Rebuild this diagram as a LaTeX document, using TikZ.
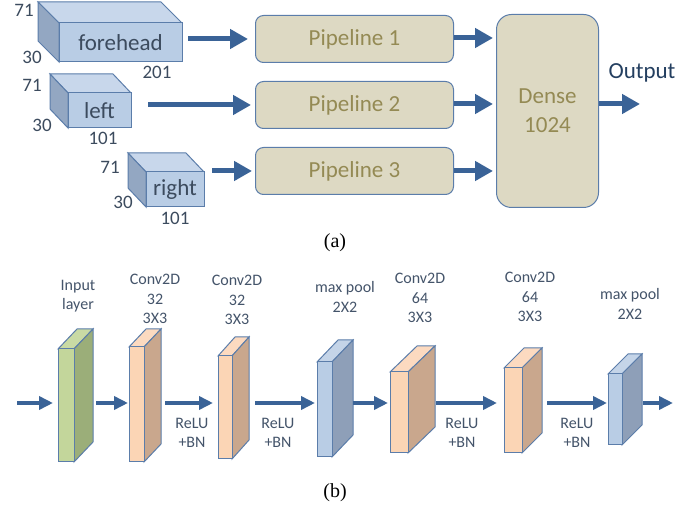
\documentclass[tikz,border=0pt]{standalone}
\usepackage{fontspec}
\setmainfont{Carlito}
\newfontfamily\capfont{Liberation Serif}
\usetikzlibrary{arrows.meta,calc}
\definecolor{edgeblue}{HTML}{5B7DAA}
\definecolor{arrblue}{HTML}{3A6397}
\definecolor{cubfront}{HTML}{B9CDE5}
\definecolor{cubtop}{HTML}{C8D7EB}
\definecolor{cubside}{HTML}{93A7C2}
\definecolor{grnfront}{HTML}{C3D69B}
\definecolor{grntop}{HTML}{C9DAA4}
\definecolor{grnside}{HTML}{9BAE79}
\definecolor{cnvfront}{HTML}{FBD5B5}
\definecolor{cnvtop}{HTML}{FCDAC0}
\definecolor{cnvside}{HTML}{C9A78D}
\definecolor{mpfront}{HTML}{B9CDE5}
\definecolor{mptop}{HTML}{C4D4E8}
\definecolor{mpside}{HTML}{8E9FB8}
\definecolor{tanfill}{HTML}{DDD9C3}
\definecolor{olivetext}{HTML}{948A54}
\definecolor{darktext}{HTML}{3C4B5E}
\definecolor{labtext}{HTML}{44546A}
\definecolor{navytext}{HTML}{243F60}
\tikzset{
  face/.style={draw=edgeblue, line width=1pt},
  bigfont/.style={font=\fontsize{23}{29}\selectfont},
  numlbl/.style={font=\fontsize{19}{22}\selectfont, text=darktext, inner sep=0pt},
  lbl/.style={font=\fontsize{16}{19.5}\selectfont, text=labtext, align=center, inner sep=0pt},
  pipebox/.style={draw=edgeblue, fill=tanfill, rounded corners=8pt, line width=1pt,
     minimum width=198pt, minimum height=47pt, anchor=north west, bigfont, text=olivetext},
  bigarrow/.style={draw=arrblue, line width=5pt, -{Triangle[length=18pt,width=19pt]}},
  smallarrow/.style={draw=arrblue, line width=3.5pt, -{Triangle[length=14pt,width=13pt]}},
}
% box with depth to the upper left: name,x1,y1,x2,y2,dx,dy,colour prefix,text
\newcommand\boxL[9]{%
  \filldraw[face, fill=#8top] (#2,#3) -- ({#2+(#6)},{#3+(#7)}) -- ({#4+(#6)},{#3+(#7)}) -- (#4,#3) -- cycle;
  \filldraw[face, fill=#8side] (#2,#3) -- ({#2+(#6)},{#3+(#7)}) -- ({#2+(#6)},{#5+(#7)}) -- (#2,#5) -- cycle;
  \node[face, fill=#8front, anchor=north west, inner sep=0pt, outer sep=0pt,
        minimum width={(#4-#2)*1pt}, minimum height={(#5-#3)*1pt}, bigfont, text=darktext] (#1) at (#2,#3) {#9};
}
% slab with depth to the upper right: name,x1,y1,x2,y2,dx,dy,colour prefix
\newcommand\slabR[8]{%
  \filldraw[face, fill=#8top] (#2,#3) -- ({#2+(#6)},{#3+(#7)}) -- ({#4+(#6)},{#3+(#7)}) -- (#4,#3) -- cycle;
  \filldraw[face, fill=#8side] (#4,#3) -- ({#4+(#6)},{#3+(#7)}) -- ({#4+(#6)},{#5+(#7)}) -- (#4,#5) -- cycle;
  \node[face, fill=#8front, anchor=north west, inner sep=0pt, outer sep=0pt,
        minimum width={(#4-#2)*1pt}, minimum height={(#5-#3)*1pt}] (#1) at (#2,#3) {};
  \coordinate (#1-back) at ({#4+(#6)},#3);
}
\begin{document}
\begin{tikzpicture}[x=1pt,y=-1pt]
\useasboundingbox[fill=white] (0,0) rectangle (699,510);
% ---------- (a) ----------
\boxL{fh}{59}{23}{182}{62}{-21}{-21}{cub}{forehead}
\boxL{lf}{68}{93}{131}{128}{-18}{-19}{cub}{left}
\boxL{rt}{146}{172}{204}{207}{-18}{-19}{cub}{right}
\node[numlbl] (fh71) at (24,10) {71};
\node[numlbl] (fh30) at (32,57) {30};
\node[numlbl] (fh201) at (157,72) {201};
\node[numlbl] (lf71) at (32,85) {71};
\node[numlbl] (lf30) at (42,125) {30};
\node[numlbl] (lf101) at (103,138) {101};
\node[numlbl] (rt71) at (110,167) {71};
\node[numlbl] (rt30) at (123,202) {30};
\node[numlbl] (rt101) at (175,218) {101};

\node[pipebox] (p1) at (255,15) {Pipeline 1};
\node[pipebox] (p2) at (255,81) {Pipeline 2};
\node[pipebox] (p3) at (255,147) {Pipeline 3};
\node[draw=edgeblue, fill=tanfill, rounded corners=15pt, line width=1pt, anchor=north west,
      minimum width=102pt, minimum height=193pt, bigfont, text=olivetext, align=center] (dense) at (496,14) {Dense\\1024};
\coordinate (outend) at (640,104);
\node[bigfont, text=navytext] (outlbl) at (642,73) {Output};

\draw[bigarrow, shorten <=6pt, shorten >=7pt] (p1.west -| fh.east) -- (p1.west);
\draw[bigarrow, shorten <=17pt, shorten >=4pt] (p2.west -| lf.east) -- (p2.west);
\draw[bigarrow, shorten <=8pt, shorten >=3pt] (p3.west -| rt.east) -- (p3.west);
\draw[bigarrow, shorten >=3pt] ([yshift=1pt]p1.east) -- ([yshift=1pt]p1.east -| dense.west);
\draw[bigarrow, shorten >=3pt] ([yshift=1pt]p2.east) -- ([yshift=1pt]p2.east -| dense.west);
\draw[bigarrow, shorten >=3pt] (p3.east) -- (p3.east -| dense.west);
\draw[bigarrow] (dense.east |- outend) -- (outend);
\node[font=\capfont\fontsize{20}{24}\selectfont] (capa) at (335,243) {(a)};

% ---------- (b) ----------
\slabR{inp}{58}{349}{74}{462}{19}{-20}{grn}
\slabR{c1}{129}{347}{144}{462}{17}{-18}{cnv}
\slabR{c2}{218}{356}{232}{459}{17}{-19}{cnv}
\slabR{mp1}{317}{362}{332}{457}{21}{-22}{mp}
\slabR{c3}{390}{372}{408}{453}{27}{-26}{cnv}
\slabR{c4}{504}{368}{522}{453}{20}{-20}{cnv}
\slabR{mp2}{608}{374}{622}{445}{20}{-20}{mp}

\node[lbl] (linp) at (78,296) {Input\\layer};
\node[lbl] (lc1) at (155,299) {Conv2D\\32\\3X3};
\node[lbl] (lc2) at (237,300) {Conv2D\\32\\3X3};
\node[lbl] (lmp1) at (345,297) {max pool\\2X2};
\node[lbl] (lc3) at (420,298) {Conv2D\\64\\3X3};
\node[lbl] (lc4) at (530,297) {Conv2D\\64\\3X3};
\node[lbl] (lmp2) at (630,304) {max pool\\2X2};

\coordinate (row) at (0,403);
\coordinate (instart) at (17,403);
\coordinate (outb) at (673,403);
\draw[smallarrow, shorten >=5pt] (instart) -- (inp.west |- row);
\draw[smallarrow, shorten <=3pt, shorten >=1pt] (inp-back |- row) -- (c1.west |- row);
\draw[smallarrow, shorten <=4pt, shorten >=5pt] (c1-back |- row) -- (c2.west |- row);
\draw[smallarrow, shorten <=6pt, shorten >=2pt] (c2-back |- row) -- (mp1.west |- row);
\draw[smallarrow, shorten >=2pt] (mp1-back |- row) -- (c3.west |- row);
\draw[smallarrow, shorten <=1pt, shorten >=7pt] (c3-back |- row) -- (c4.west |- row);
\draw[smallarrow, shorten <=5pt, shorten >=1pt] (c4-back |- row) -- (mp2.west |- row);
\draw[smallarrow, shorten <=1pt] (mp2-back |- row) -- (outb);

\node[lbl] (r1) at (192,433) {ReLU\\+BN};
\node[lbl] (r2) at (278,433) {ReLU\\+BN};
\node[lbl] (r3) at (462,433) {ReLU\\+BN};
\node[lbl] (r4) at (577,433) {ReLU\\+BN};
\node[font=\capfont\fontsize{20}{24}\selectfont] (capb) at (335,493) {(b)};
\end{tikzpicture}
\end{document}
